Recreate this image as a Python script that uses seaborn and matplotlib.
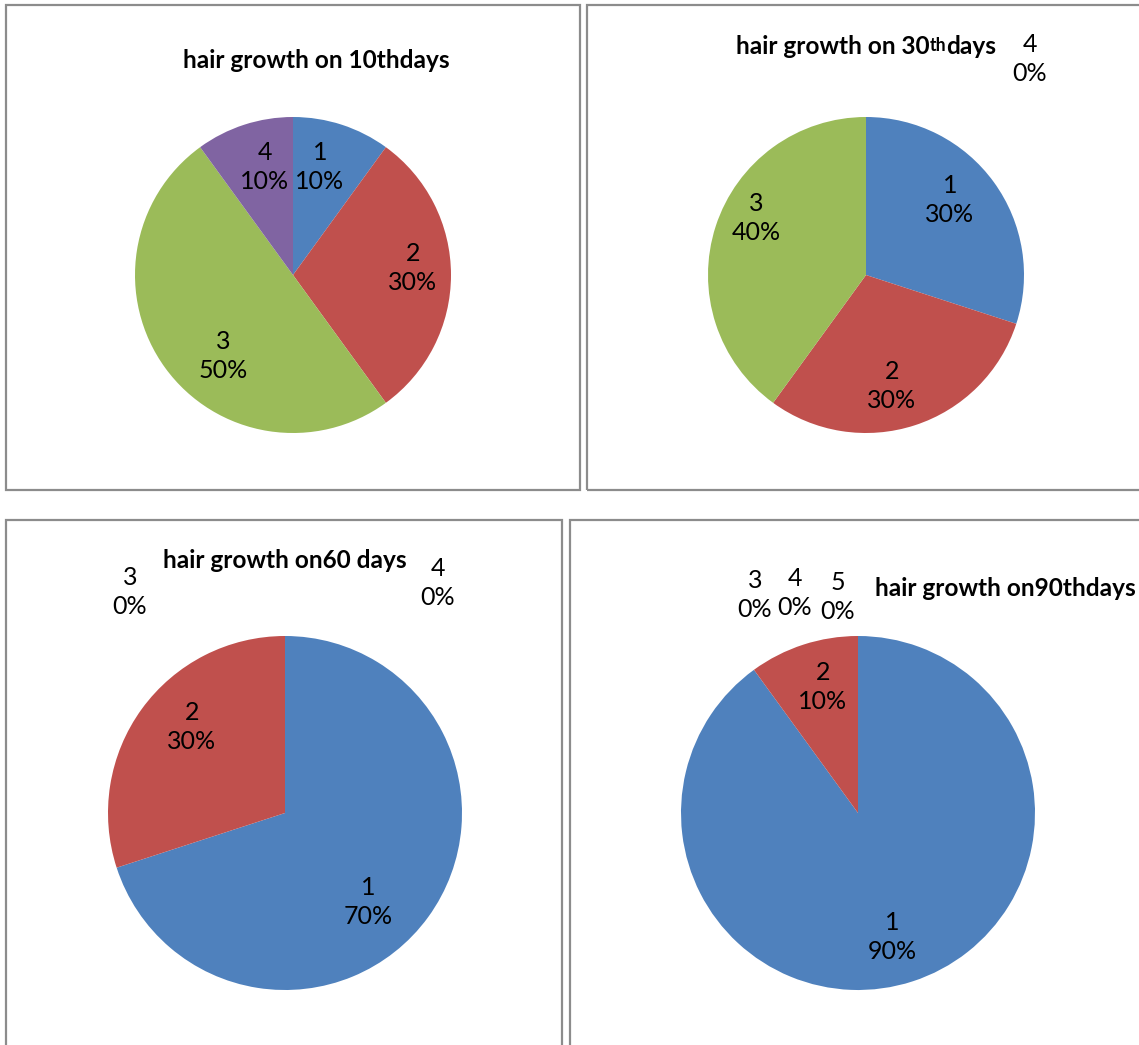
import matplotlib
matplotlib.use("Agg")
import matplotlib.pyplot as plt
import seaborn as sns
from matplotlib.patches import Rectangle

sns.set_theme(style="white")
plt.rcParams['font.family'] = ['Lato', 'DejaVu Sans']

# ---- data ----
categories_10 = ["1", "2", "3", "4"]
values_10 = [10, 30, 50, 10]
categories_30 = ["1", "2", "3", "4"]
values_30 = [30, 30, 40, 0]
categories_60 = ["1", "2", "3", "4"]
values_60 = [70, 30, 0, 0]
categories_90 = ["1", "2", "3", "4", "5"]
values_90 = [90, 10, 0, 0, 0]

title_10 = [("hair growth on 10thdays", 1.0)]
title_30 = [("hair growth on 30", 1.0), ("th", 0.72), ("days", 1.0)]
title_60 = [("hair growth on60 days", 1.0)]
title_90 = [("hair growth on90thdays", 1.0)]

colors = ["#4F81BD", "#C0504D", "#9BBB59", "#8064A2", "#4BACC6"]

# ---- layout (pixel coordinates of the reference image, y from top) ----
W, H = 1139, 1045
panels = [
    dict(cats=categories_10, vals=values_10, title=title_10,
         box=(6, 5, 580, 490), center=(293, 275), r=158, tpos=(316, 58),
         labels=[(320, 167), (413, 268), (223, 356), (265, 167)]),
    dict(cats=categories_30, vals=values_30, title=title_30,
         box=(587, 5, 1145, 490), center=(866, 275), r=158, tpos=(866, 44),
         labels=[(950, 200), (892, 386), (756, 218), (1030, 59)]),
    dict(cats=categories_60, vals=values_60, title=title_60,
         box=(6, 520, 562, 1060), center=(285, 813), r=177, tpos=(285, 558),
         labels=[(368, 902), (192, 727), (130, 592), (438, 583)]),
    dict(cats=categories_90, vals=values_90, title=title_90,
         box=(570, 520, 1145, 1060), center=(858, 813), r=177, tpos=(1005, 587),
         labels=[(892, 937), (823, 687), (755, 595), (795, 593), (838, 597)]),
]

LABEL_FS = 18.0
TITLE_FS = 17.6

fig = plt.figure(figsize=(W / 100, H / 100), dpi=100)
ax = fig.add_axes([0, 0, 1, 1])

def Y(y):
    return H - y

for p in panels:
    x0, y0, x1, y1 = p["box"]
    ax.add_patch(Rectangle((x0, Y(y1)), x1 - x0, y1 - y0, fill=False,
                           edgecolor="#8c8c8c", linewidth=1.6, zorder=1))
    cx, cy = p["center"]
    ax.pie(p["vals"], colors=colors[:len(p["vals"])], startangle=90,
           counterclock=False, center=(cx, Y(cy)), radius=p["r"], frame=True,
           wedgeprops=dict(linewidth=0))
    total = sum(p["vals"])
    for cat, v, (lx, ly) in zip(p["cats"], p["vals"], p["labels"]):
        ax.text(lx, Y(ly), f"{cat}\n{round(100 * v / total)}%", ha="center",
                va="center", multialignment="center", fontsize=LABEL_FS,
                linespacing=1.27, color="black", zorder=5)

ax.set_xlim(0, W)
ax.set_ylim(0, H)
ax.set_aspect("auto")
ax.axis("off")

# titles made of pieces (for the smaller "th")
fig.canvas.draw()
renderer = fig.canvas.get_renderer()
for p in panels:
    tx, ty = p["tpos"]
    pieces = []
    for s, scale in p["title"]:
        t = ax.text(0, Y(ty), s, fontsize=TITLE_FS * scale, fontweight="bold",
                    ha="left", va="center_baseline", color="black", zorder=6)
        pieces.append(t)
    fig.canvas.draw()
    widths = [t.get_window_extent(renderer).width for t in pieces]
    total_w = sum(widths)
    x = tx - total_w / 2
    for t, w in zip(pieces, widths):
        t.set_x(x)
        x += w

fig.savefig("out.png", dpi=100, facecolor="white")
